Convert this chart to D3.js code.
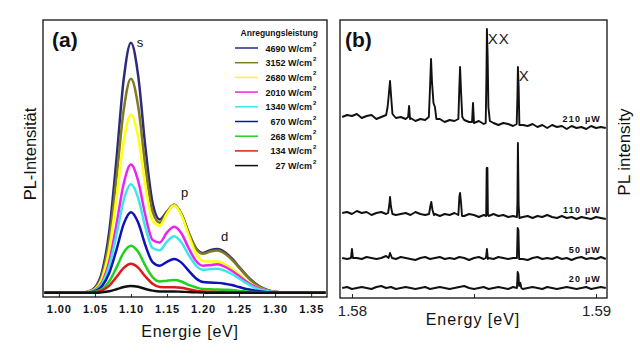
<!DOCTYPE html>
<html>
<head>
<meta charset="utf-8">
<script src="https://cdn.jsdelivr.net/npm/d3@7"></script>
<style>
  body { margin: 0; background: #fff; }
  text { font-family: "Liberation Sans", Arial, sans-serif; }
</style>
</head>
<body>
<div id="chart"></div>
<script>
// ---- panel (a): PL spectra vs. excitation power ----
const energyA = [0.98,0.99,1.00,1.01,1.02,1.03,1.04,1.05,1.06,1.07,1.08,1.09,1.10,1.11,1.12,1.13,1.14,1.15,1.16,1.17,
                 1.18,1.19,1.20,1.21,1.22,1.23,1.24,1.25,1.26,1.27,1.28,1.29,1.30,1.31,1.32,1.33,1.34,1.35,1.36,1.37];
const powersA = ["4690","3152","2680","2010","1340","670","268","134","27"];
const colorsA = ["#2b2b7c","#7f7a1e","#ffff10","#ee22ee","#3ce6e6","#1010b8","#1ed21e","#e01818","#111111"];
const p4690 = [0,0,0,0,0,0,0.4,1.9,7.7,22.4,48.5,77.2,90.3,78.5,52.7,32.5,26.5,29.4,31.8,28.5,21.8,16.2,14.4,15.4,15.8,14.7,12.4,9.4,6.4,3.9,2.1,1.0,0.4,0.2,0,0,0,0,0,0];
const p3152 = [0,0,0,0,0,0,0.3,1.6,6.5,19.2,41.5,66.1,77.3,67.4,45.7,29.3,25.3,29.1,31.7,28.4,21.7,16.0,14.1,14.9,15.3,14.2,12.0,9.1,6.2,3.7,2.0,1.0,0.4,0.2,0,0,0,0,0,0];
const p2680 = [0,0,0,0,0,0,0.3,1.3,5.4,15.9,34.5,54.9,64.3,56.2,38.7,26.0,24.2,28.7,31.6,28.1,20.9,14.4,11.5,11.3,11.3,10.4,8.8,6.7,4.5,2.7,1.5,0.7,0.3,0.1,0,0,0,0,0,0];
const p2010 = [0,0,0,0,0,0,0.2,1.0,3.9,11.5,24.8,39.5,46.3,40.4,28.0,19.1,18.2,21.8,23.9,21.5,16.2,11.6,9.8,10.0,10.3,9.5,8.0,6.1,4.1,2.5,1.4,0.7,0.3,0.1,0,0,0,0,0,0];
const p1340 = [0,0,0,0,0,0,0.2,0.8,3.3,9.7,21.0,33.5,39.2,34.3,23.7,16.2,15.4,18.5,20.4,18.2,13.7,9.9,8.3,8.6,8.7,8.0,6.8,5.2,3.5,2.1,1.1,0.6,0.2,0.1,0,0,0,0,0,0];
const p670  = [0,0,0,0,0,0,0.1,0.6,2.5,7.2,15.6,24.9,29.1,25.4,17.2,11.1,9.8,11.2,12.2,10.9,8.0,5.3,3.9,3.7,3.6,3.3,2.8,2.1,1.4,0.9,0.5,0.2,0.1,0,0,0,0,0,0,0];
const p268  = [0,0,0,0,0,0,0,0.4,1.4,4.2,9.2,14.6,17.0,14.8,9.8,5.7,4.1,4.4,4.6,4.1,2.9,2.0,1.4,1.3,1.2,1.1,1.0,0.7,0.5,0.3,0.2,0.1,0,0,0,0,0,0,0,0];
const p134  = [0,0,0,0,0,0,0,0.2,0.9,2.6,5.7,9.0,10.5,9.1,5.9,3.3,2.1,2.0,2.0,1.8,1.3,0.8,0.5,0.4,0.3,0.3,0.2,0.2,0.1,0,0,0,0,0,0,0,0,0,0,0];
const p27   = [0,0,0,0,0,0,0,0,0.2,0.6,1.3,2.1,2.5,2.2,1.4,0.8,0.5,0.5,0.5,0.4,0.3,0.2,0.1,0,0,0,0,0,0,0,0,0,0,0,0,0,0,0,0,0];
const seriesA = [p4690,p3152,p2680,p2010,p1340,p670,p268,p134,p27];
const ticksA = [1.00,1.05,1.10,1.15,1.20,1.25,1.30,1.35];
const peakLabels = [{t:"s", e:1.108, v:88.8}, {t:"p", e:1.1695, v:34.6}, {t:"d", e:1.225, v:18.7}];

// ---- panel (b): single-dot spectra ----
const energyB = [1.5796,1.5798,1.5800,1.5802,1.5804,1.5806,1.5808,1.5810,1.5812,1.5814,1.5816,1.5818,1.5820,1.5822,1.5824,
                 1.5826,1.5828,1.5830,1.5832,1.5834,1.5836,1.5838,1.5840,1.5842,1.5844,1.5846,1.5848,1.5850,1.5852,1.5854,
                 1.5856,1.5858,1.5860,1.5862,1.5864,1.5866,1.5868,1.5870,1.5872,1.5874,1.5876,1.5878,1.5880,1.5882,1.5884,
                 1.5886,1.5888,1.5890,1.5892,1.5894,1.5896,1.5898,1.5900,1.5902,1.5904];
const powersB = ["210","110","50","20"];
const offsetsB = [181, 85, 40, 10];
const base210 = [0,2,1,3,-1,1,2,-2,0,1,-3,-1,0,-2,-1,-4,-2,-3,-1,-4,-2,-5,-3,-4,-6,-3,-5,-6,-4,-7,-5,-6,-8,-6,-7,-9,-6,-8,-9,-7,-10,-8,-11,-8,-10,-9,-12,-9,-11,-10,-12,-9,-11,-10,-11];
const base110 = [0,1,-1,2,0,1,-2,0,1,-1,0,-2,-1,0,-2,1,-1,-2,0,-1,-3,-1,-2,0,-2,-3,-1,-2,-4,-2,-3,-1,-3,-2,-4,-3,-2,-4,-3,-5,-3,-4,-2,-4,-5,-3,-5,-4,-6,-4,-5,-6,-4,-5,-6];
const base50  = [0,-1,1,0,-1,1,0,-1,0,2,0,-1,1,0,-1,-2,0,1,-1,0,1,-1,0,-1,1,0,-2,0,1,-1,0,-1,1,0,-1,0,1,-1,-2,0,1,-1,0,-1,1,-1,0,-2,0,1,-1,0,-1,1,-1];
const base20  = [0,1,-1,0,1,0,-1,1,2,0,1,-1,0,1,0,-1,0,1,-1,0,1,0,-1,0,1,2,0,-1,0,1,-1,0,1,0,-1,1,0,-1,0,1,0,-1,1,0,-1,0,1,0,-1,0,1,-1,0,1,0];
const peaks210 = [
  [[1.58140,2],[1.58146,10],[1.58150,20],[1.58156,36],[1.58160,22],[1.58166,3]],
  [[1.58230,0],[1.58234,11],[1.58238,-2]],
  [[1.58315,0],[1.58320,30],[1.58324,58],[1.58328,35],[1.58334,14],[1.58340,10],[1.58346,-2]],
  [[1.58436,-2],[1.58440,30],[1.58443,50],[1.58447,25],[1.58452,0]],
  [[1.58492,-5],[1.58496,14],[1.58500,-6]],
  [[1.58548,-6],[1.58551,40],[1.58553,88],[1.58556,60],[1.58559,10],[1.58565,-4]],
  [[1.58675,-7],[1.58678,20],[1.58680,50],[1.58683,30],[1.58686,-8]]
];
const peaks110 = [
  [[1.58148,0],[1.58153,8],[1.58156,16],[1.58160,6],[1.58166,-1]],
  [[1.58316,-1],[1.58322,8],[1.58325,11],[1.58330,3],[1.58336,-2]],
  [[1.58436,-2],[1.58440,16],[1.58443,20],[1.58447,10],[1.58451,-3]],
  [[1.58550,-3],[1.58552,45],[1.58555,45],[1.58557,-2]],
  [[1.58676,-4],[1.58678,10],[1.58680,70],[1.58683,8],[1.58686,-5]]
];
const peaks50 = [
  [[1.57996,0],[1.58000,9],[1.58004,0]],
  [[1.58150,0],[1.58156,5],[1.58164,0]],
  [[1.58549,0],[1.58553,9],[1.58557,-1]],
  [[1.58676,0],[1.58679,30],[1.58682,28],[1.58685,-1]]
];
const peaks20 = [
  [[1.58676,0],[1.58679,16],[1.58682,14],[1.58685,2],[1.58690,5],[1.58694,0]]
];
const basesB = [base210, base110, base50, base20];
const peaksB = [peaks210, peaks110, peaks50, peaks20];

const width = 640, height = 353;
const svg = d3.select("#chart").append("svg")
  .attr("width", width).attr("height", height)
  .attr("viewBox", [0, 0, width, height]);

// ================= panel (a) =================
const xA = d3.scaleLinear([0.978, 1.372], [43, 327]);
const yA = d3.scaleLinear([-1.5, 98.5], [297, 20]);

const gA = svg.append("g");
gA.append("g")
  .attr("transform", `translate(0,${yA.range()[0]})`)
  .call(d3.axisBottom(xA).tickValues(ticksA).tickSize(-3).tickPadding(8).tickFormat(d3.format(".2f")))
  .call(g => g.select(".domain").remove())
  .call(g => g.selectAll("line").attr("stroke", "#222"))
  .call(g => g.selectAll("text")
    .attr("font-size", 11).attr("font-weight", "bold").attr("letter-spacing", 0.9)
    .attr("fill", "#111").attr("font-family", "Liberation Sans, Arial"));

const lineA = d3.line().x((d, i) => xA(energyA[i])).y(d => yA(d)).curve(d3.curveMonotoneX);
gA.append("g")
  .selectAll("path")
  .data(seriesA)
  .join("path")
  .attr("d", d => lineA(d))
  .attr("fill", "none")
  .attr("stroke", (d, i) => colorsA[i])
  .attr("stroke-width", 2.5)
  .attr("stroke-linejoin", "round");

gA.append("rect")
  .attr("x", 43).attr("y", 20).attr("width", 327 - 43).attr("height", 297 - 20)
  .attr("fill", "none").attr("stroke", "#111").attr("stroke-width", 1.3);

gA.selectAll(".plab").data(peakLabels).join("text")
  .attr("x", d => xA(d.e)).attr("y", d => yA(d.v))
  .attr("font-size", 13).attr("fill", "#111").text(d => d.t);

gA.append("text").attr("x", 52).attr("y", 47)
  .attr("font-size", 21).attr("font-weight", "bold").attr("fill", "#111").text("(a)");

// legend
const leg = gA.append("g").attr("font-family", "DejaVu Sans Condensed, Liberation Sans Narrow, sans-serif");
leg.append("text").attr("x", 318).attr("y", 36).attr("text-anchor", "end")
  .attr("font-size", 8.5).attr("font-weight", "bold").attr("fill", "#111").text("Anregungsleistung");
powersA.forEach((p, i) => {
  const yy = 48 + i * 14.7;
  leg.append("line").attr("x1", 235).attr("x2", 258).attr("y1", yy).attr("y2", yy)
    .attr("stroke", colorsA[i]).attr("stroke-width", 1.5);
  leg.append("text").attr("x", 312).attr("y", yy + 3.5).attr("text-anchor", "end")
    .attr("font-size", 9).attr("font-weight", "bold").attr("fill", "#111").text(p + " W/cm");
  leg.append("text").attr("x", 313).attr("y", yy - 2)
    .attr("font-size", 6).attr("font-weight", "bold").attr("fill", "#111").text("2");
});

gA.append("text").attr("x", 190).attr("y", 337).attr("text-anchor", "middle")
  .attr("font-size", 16).attr("letter-spacing", 0.8).attr("fill", "#111").text("Energie [eV]");
gA.append("text").attr("transform", "translate(36,154) rotate(-90)").attr("text-anchor", "middle")
  .attr("font-size", 16.5).attr("fill", "#111").text("PL-Intensität");

// ================= panel (b) =================
const xB = d3.scaleLinear([1.57951, 1.59045], [340, 607]);
const yB = d3.scaleLinear([0, 279], [298, 19]);

const gB = svg.append("g");
gB.append("g")
  .attr("transform", `translate(0,${yB.range()[0]})`)
  .call(d3.axisBottom(xB).tickValues([1.58, 1.585, 1.59]).tickSize(-4).tickPadding(7)
    .tickFormat(d => d === 1.585 ? "" : d3.format(".2f")(d)))
  .call(g => g.select(".domain").remove())
  .call(g => g.selectAll("line").attr("stroke", "#222"))
  .call(g => g.selectAll("text").attr("font-size", 15).attr("fill", "#222")
    .attr("font-family", "Liberation Sans, Arial"));

const lineB = d3.line().x(d => xB(d[0])).y(d => yB(d[1]));
const tracesB = basesB.map((base, k) => {
  const spans = peaksB[k].map(pk => [pk[0][0], pk[pk.length - 1][0]]);
  const pts = energyB.map((e, i) => [e, base[i]])
    .filter(p => !spans.some(s => p[0] >= s[0] && p[0] <= s[1]));
  peaksB[k].forEach(pk => pk.forEach(p => pts.push(p)));
  pts.sort((a, b) => a[0] - b[0]);
  return pts.map(p => [p[0], p[1] + offsetsB[k]]);
});

gB.append("g")
  .selectAll("path")
  .data(tracesB)
  .join("path")
  .attr("d", d => lineB(d))
  .attr("fill", "none")
  .attr("stroke", "#111")
  .attr("stroke-width", 1.9)
  .attr("stroke-linejoin", "round");

gB.append("rect")
  .attr("x", 340).attr("y", 20).attr("width", 607 - 340).attr("height", 298 - 20)
  .attr("fill", "none").attr("stroke", "#111").attr("stroke-width", 1.3);

gB.selectAll(".tlab").data(powersB).join("text")
  .attr("x", 601)
  .attr("y", (d, k) => yB(offsetsB[k] + basesB[k][basesB[k].length - 1]) - 6)
  .attr("text-anchor", "end")
  .attr("font-size", 9).attr("font-weight", "bold").attr("letter-spacing", 1.2)
  .attr("fill", "#111").text(d => d + " µW");

gB.append("text").attr("x", xB(1.58556)).attr("y", 44)
  .attr("font-size", 15).attr("letter-spacing", 1).attr("fill", "#222").text("XX");
gB.append("text").attr("x", xB(1.58683)).attr("y", 81)
  .attr("font-size", 15).attr("fill", "#222").text("X");

gB.append("text").attr("x", 345).attr("y", 47)
  .attr("font-size", 21).attr("font-weight", "bold").attr("fill", "#111").text("(b)");

gB.append("text").attr("x", 473).attr("y", 325).attr("text-anchor", "middle")
  .attr("font-size", 16).attr("letter-spacing", 1).attr("fill", "#111").text("Energy [eV]");
gB.append("text").attr("transform", "translate(630,152) rotate(-90)").attr("text-anchor", "middle")
  .attr("font-size", 17).attr("fill", "#111").text("PL intensity");
</script>
</body>
</html>
